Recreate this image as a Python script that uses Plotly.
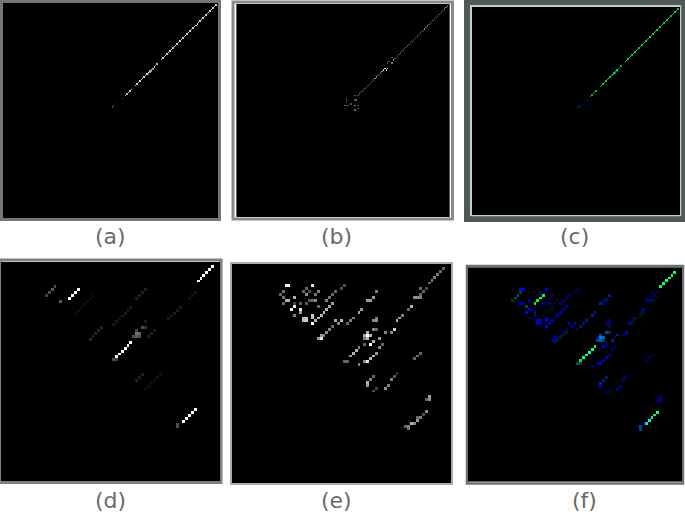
"""Six sparse matrix panels: two grey pairs plus their green/blue merges."""

import numpy as np
import plotly.graph_objects as go

W, H = 685, 512

# (col, row, level); upper row is on a 150 grid, lower on 75
a_cells = [
    (148, 1, .8), (147, 2, .8), (146, 3, .8), (145, 4, .8), (144, 5, .8), (143, 6, .8),
    (142, 7, .8), (141, 8, .8), (140, 9, .8), (139, 10, .8), (138, 11, .8), (137, 12, .8),
    (136, 13, .8), (135, 14, .8), (134, 15, .8), (133, 16, .8), (132, 17, .8), (131, 18, .8),
    (130, 19, .8), (129, 20, .8), (128, 21, .8), (127, 22, .8), (126, 23, .8), (125, 24, .8),
    (124, 25, .8), (123, 26, .8), (122, 27, .8), (121, 28, .8), (120, 29, .8), (119, 30, .8),
    (118, 31, .8), (117, 32, .8), (116, 33, .8), (115, 34, .8), (114, 35, .8), (113, 36, .8),
    (112, 37, .8), (111, 38, .8), (110, 39, .8), (107, 42, .7), (106, 43, .7), (105, 44, .75),
    (104, 45, .75), (103, 46, .75), (102, 47, .75), (101, 48, .8), (100, 49, .8), (99, 50, .8),
    (98, 51, .8), (97, 52, .8), (96, 53, .8), (95, 54, .8), (94, 55, .8), (93, 56, .8),
    (92, 57, .75), (89, 60, .75), (88, 61, .75), (87, 62, .7), (86, 63, .7), (85, 64, .7),
    (104, 46, .5), (103, 47, .55), (102, 48, .55), (101, 49, .45),
    (83, 66, .3), (79, 69, .12), (77, 71, .2), (76, 72, .35),
]
b_cells = [
    (148, 1, .4), (147, 2, .55), (146, 3, .45), (145, 4, .3), (144, 5, .3), (143, 6, .25),
    (142, 7, .3), (141, 8, .3), (140, 9, .25), (139, 10, .3), (138, 11, .3), (137, 12, .25),
    (136, 13, .3), (135, 14, .35), (134, 15, .4), (133, 16, .45), (132, 17, .55), (131, 18, .35),
    (130, 19, .3), (129, 20, .3), (128, 21, .25), (127, 22, .3), (126, 23, .3), (125, 24, .25),
    (124, 25, .3), (123, 26, .3), (122, 27, .25), (121, 28, .3), (120, 29, .3), (119, 30, .25),
    (118, 31, .3), (117, 32, .3), (116, 33, .3), (115, 34, .3), (114, 35, .3), (113, 36, .3),
    (112, 37, .35), (111, 38, .4), (110, 39, .6), (109, 41, .45), (107, 40, .35), (109, 37, .3),
    (106, 41, .3), (106, 45, .8), (105, 46, .85), (104, 45, .85), (103, 46, .85), (102, 47, .6),
    (101, 48, .35), (100, 49, .3), (99, 50, .35), (98, 51, .5), (97, 52, .6), (96, 53, .35),
    (95, 54, .25), (94, 55, .2), (93, 56, .3), (92, 57, .3), (91, 58, .25), (90, 59, .3),
    (89, 60, .3), (88, 61, .3), (87, 62, .3), (86, 63, .3), (85, 64, .3),
    (83, 64, .35), (84, 67, .35), (83, 67, .35), (77, 67, .35), (77, 69, .35), (76, 71, .4),
    (78, 71, .35), (80, 70, .3), (83, 71, .45), (85, 71, .35), (83, 74, .4), (85, 73, .35),
]
d_cells = [
    (15, 11, .25), (16, 10, .3), (17, 9, .35), (18, 8, .3), (20, 13, .35),
    (23, 12, 1), (24, 11, 1), (25, 10, 1), (26, 9, 1),
    (67, 6, 1), (68, 5, 1), (69, 4, 1), (70, 3, 1), (71, 2, 1), (72, 1, 1),
    (39, 32, .95), (40, 31, 1), (41, 30, 1), (42, 29, 1), (43, 28, 1), (44, 27, 1),
    (62, 54, .95), (63, 53, 1), (64, 52, 1), (65, 51, 1), (66, 50, 1),
    (60, 55, .3), (60, 56, .3), (38, 33, .3), (39, 33, .25),
    (46, 24, .45), (46, 25, .35), (47, 24, .4), (45, 25, .3), (47, 25, .3), (46, 23, .25),
    (48, 22, .3), (49, 22, .2), (49, 20, .1), (50, 25, .12), (51, 24, .12), (52, 23, .12),
    (30, 26, .14), (31, 25, .14), (32, 24, .14), (33, 23, .14), (34, 22, .14),
    (38, 21, .1), (39, 20, .1), (40, 19, .08), (41, 18, .1), (42, 17, .1), (43, 16, .1), (44, 15, .1),
    (46, 12, .12), (47, 11, .12), (48, 10, .12), (49, 9, .12),
    (57, 19, .1), (58, 18, .1), (59, 17, .1), (60, 16, .1), (61, 15, .1),
    (64, 12, .08), (65, 11, .08), (66, 10, .08),
    (46, 40, .12), (47, 39, .12), (48, 38, .12),
    (49, 43, .06), (50, 42, .06), (51, 41, .06), (52, 40, .06), (53, 39, .06), (54, 38, .06),
    (25, 17, .06), (26, 16, .06), (27, 15, .06), (28, 14, .06), (29, 13, .06), (30, 12, .06), (31, 11, .06),
]
e_cells = [
    (18, 7, .95), (19, 7, .95), (17, 9, .45), (16, 10, .4), (17, 11, .45),
    (25, 8, .4), (24, 9, .4), (25, 10, .55), (26, 9, .3), (27, 7, .9), (29, 9, .5), (28, 10, .45),
    (27, 12, .4), (28, 12, .55), (26, 12, .35), (25, 13, .35), (23, 13, .35),
    (18, 12, .7), (19, 12, .7), (21, 11, .7), (17, 13, .4), (21, 13, .25),
    (21, 14, .9), (20, 15, .95), (23, 15, .9), (23, 16, .6), (21, 17, .5),
    (24, 18, .75), (25, 18, .75), (24, 19, .75), (25, 19, .8), (27, 17, .8), (27, 18, .75), (27, 20, 1),
    (28, 19, .7), (29, 18, .75), (30, 17, .7), (31, 16, .75), (32, 15, .7), (33, 14, .65), (34, 13, .6),
    (32, 12, .5), (33, 11, .45), (34, 10, .4), (35, 9, .4), (37, 8, .3), (38, 7, .3), (29, 14, .4),
    (30, 25, .9), (29, 25, .6), (30, 24, .6), (31, 24, .5), (32, 23, .55), (33, 22, .5), (34, 21, .4),
    (35, 19, .65), (37, 19, .7), (36, 20, .5), (39, 20, .4), (40, 19, .5), (41, 18, .5), (43, 16, .65), (44, 15, .6),
    (72, 1, .4), (71, 2, .4), (70, 3, .45), (69, 4, .5), (68, 5, .5), (67, 6, .4),
    (66, 8, .3), (65, 9, .4), (64, 8, .4), (64, 10, .4), (62, 11, .55), (63, 11, .55), (64, 11, .5),
    (61, 14, .7), (60, 15, .4), (58, 17, .5), (57, 18, .6), (56, 19, .7), (55, 22, .8), (54, 23, .5), (52, 23, .5),
    (49, 9, .5), (48, 11, .6), (46, 12, .6), (47, 12, .6),
    (48, 19, .55), (49, 19, .55), (49, 18, .5), (48, 22, .55), (49, 22, .4),
    (46, 24, 1), (45, 24, .65), (47, 24, .7), (46, 23, .7), (46, 25, .7), (45, 25, .5), (47, 27, 1),
    (48, 26, .7), (50, 25, .6),
    (40, 31, .6), (41, 30, .7), (42, 29, .7), (43, 28, .5), (45, 27, .4), (38, 33, .4), (39, 33, .4),
    (43, 34, .5), (45, 33, .55), (46, 33, .9), (47, 32, .7), (48, 31, .7), (49, 30, .6), (50, 28, .55), (51, 27, .4),
    (46, 41, .6), (46, 40, .7), (47, 39, .5), (48, 38, .4), (48, 43, .3), (49, 42, .25),
    (52, 42, .55), (53, 41, .5), (54, 39, .5), (55, 38, .35), (56, 37, .2),
    (62, 32, .4), (63, 31, .4), (64, 30, .4),
    (66, 46, .4), (67, 46, .55), (67, 45, .6), (66, 50, .55), (65, 51, .3), (64, 52, .5),
    (63, 53, .6), (63, 52, .4), (62, 54, .55), (61, 54, .7), (60, 55, .5), (59, 55, .4), (60, 56, .45),
]
labels = ["(a)", "(b)", "(c)", "(d)", "(e)", "(f)"]

# black plot area in page pixels: x0, y0, x1, y1
boxes = {
    "a": (3, 3, 218, 218), "b": (235, 4, 451, 217), "c": (472, 7, 680, 215),
    "d": (1, 262, 220, 481), "e": (232, 264, 451, 483), "f": (468, 267, 682, 482),
}
label_x = {"a": 110, "b": 336, "c": 574, "d": 110, "e": 336, "f": 584}
label_y = {"a": 236, "b": 236, "c": 236, "d": 500, "e": 500, "f": 500}


def to_matrix(cells, n):
    m = np.zeros((n, n))
    for col, row, level in cells:
        m[row, col] = level
    return m


def merged(green, blue):
    img = np.zeros(green.shape + (3,))
    img[..., 1] = green * 255
    img[..., 2] = blue * 255
    return img


ma, mb = to_matrix(a_cells, 150), to_matrix(b_cells, 150)
md, me = to_matrix(d_cells, 75), to_matrix(e_cells, 75)
grey = [[0, "#000000"], [1, "#ffffff"]]

fig = go.Figure()
layout_axes = {}
traces = {
    "a": ma, "b": mb, "c": merged(ma, mb),
    "d": md, "e": me, "f": merged(md, me),
}
for i, (key, z) in enumerate(traces.items(), start=1):
    n = z.shape[0]
    if z.ndim == 3:
        fig.add_trace(go.Image(z=z, xaxis=f"x{i}", yaxis=f"y{i}", hoverinfo="skip"))
    else:
        fig.add_trace(go.Heatmap(
            z=z, zmin=0, zmax=1, colorscale=grey, showscale=False,
            xaxis=f"x{i}", yaxis=f"y{i}", hoverinfo="skip",
        ))
    x0, y0, x1, y1 = boxes[key]
    layout_axes[f"xaxis{i}"] = dict(
        domain=[x0 / W, x1 / W], range=[-0.5, n - 0.5], visible=False,
        anchor=f"y{i}", constrain="domain",
    )
    layout_axes[f"yaxis{i}"] = dict(
        domain=[1 - y1 / H, 1 - y0 / H], range=[n - 0.5, -0.5], visible=False,
        anchor=f"x{i}", scaleanchor=f"x{i}", constrain="domain",
    )

fig.update_layout(
    width=W, height=H, margin=dict(l=0, r=0, t=0, b=0),
    paper_bgcolor="#ffffff", plot_bgcolor="#000000", showlegend=False,
    **layout_axes,
)


def frame(x0, y0, x1, y1, colour, width):
    fig.add_shape(
        type="rect", xref="paper", yref="paper", layer="below",
        x0=x0 / W, x1=x1 / W, y0=1 - y0 / H, y1=1 - y1 / H,
        line=dict(color=colour, width=width), fillcolor="rgba(0,0,0,0)",
    )


frame(1.5, 1.5, 219.5, 219.5, "#767676", 3)
frame(233, 2, 452.5, 219, "#8a8a8a", 3)
frame(467, 2, 684, 219, "#50585a", 6)
frame(471, 6, 681, 216, "#90989a", 1)
frame(0, 260, 221, 482.5, "#808080", 3)
frame(231, 263, 452, 484, "#909090", 1.5)
frame(467, 266, 683, 483.5, "#707070", 2.5)

for key, text in zip(boxes, labels):
    fig.add_annotation(
        text=text, xref="paper", yref="paper", showarrow=False,
        x=label_x[key] / W, y=1 - label_y[key] / H,
        xanchor="center", yanchor="middle",
        font=dict(family="DejaVu Sans", size=22, color="#6a6a6a"),
    )

fig.write_html(
    "out.html",
    config=dict(displayModeBar=False),
    post_script="document.body.style.margin='0';",
)
